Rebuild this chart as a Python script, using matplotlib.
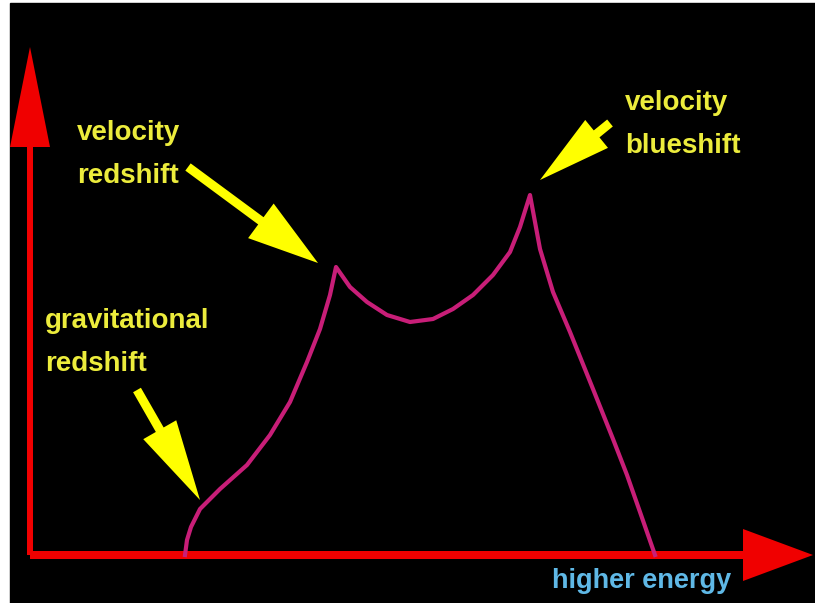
import matplotlib
matplotlib.use("Agg")
import matplotlib.pyplot as plt
from matplotlib.patches import FancyArrow, Rectangle

# line profile: energy (arbitrary units) vs flux (arbitrary units)
energy = [155, 157, 161, 170, 190, 217, 240, 260, 277, 290, 300, 306,
          320, 337, 357, 380, 403, 423, 443, 463, 480, 490, 500,
          510, 523, 540, 563, 583, 597, 610, 625]
flux = [0, 15, 28, 46, 66, 90, 120, 153, 193, 226, 260, 288,
        268, 253, 240, 233, 236, 246, 260, 280, 303, 328, 360,
        306, 263, 223, 166, 116, 80, 43, 0]

# label text, label anchor (left, baseline of each line), pointer (start, tip)
labels = [
    (["velocity", "redshift"], (47, 415), (158, 388), (288, 292), 71, 43),
    (["gravitational", "redshift"], (15, 227), (107, 165), (170, 55), 81, 38),
    (["velocity", "blueshift"], (595, 445), (580, 432), (510, 375), 73, 36),
]
axis_label = "higher energy"

plt.rcParams['font.family'] = ['Liberation Sans', 'DejaVu Sans']

fig = plt.figure(figsize=(8.15, 6.03), dpi=100, facecolor='white')
ax = fig.add_axes([0, 0, 1, 1])
ax.set_xlim(-30, 785)
ax.set_ylim(-48, 555)
ax.axis('off')

# black panel
ax.add_patch(Rectangle((-20, -60), 820, 612, color='black', zorder=0))

# axes arrows
red = '#f00000'
ax.add_patch(FancyArrow(0, 0, 0, 508, width=6, head_width=40, head_length=100,
                        length_includes_head=True, color=red, lw=0, zorder=2))
ax.add_patch(FancyArrow(0, 0, 783, 0, width=8, head_width=52, head_length=70,
                        length_includes_head=True, color=red, lw=0, zorder=2))

ax.plot(energy, flux, color='#c81e78', lw=3, solid_joinstyle='round', zorder=3)

text_yellow = '#ecec3c'
for lines, (tx, ty), (sx, sy), (ex, ey), hl, hw in labels:
    for i, line in enumerate(lines):
        ax.text(tx, ty - 43 * i, line, color=text_yellow, fontsize=20,
                fontweight='bold', ha='left', va='baseline', zorder=4)
    ax.add_patch(FancyArrow(sx, sy, ex - sx, ey - sy, width=9, head_width=hw,
                            head_length=hl, length_includes_head=True,
                            color='#ffff00', lw=0, zorder=4))

ax.text(522, -33, axis_label, color='#5fb8e6', fontsize=19.5, fontweight='bold',
        ha='left', va='baseline', zorder=4)

fig.savefig('out.png', dpi=100, facecolor='white')
